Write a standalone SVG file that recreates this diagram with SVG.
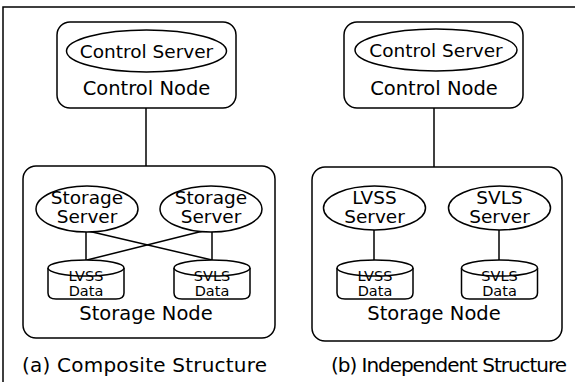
<svg xmlns="http://www.w3.org/2000/svg" width="575" height="382" viewBox="0 0 575 382">
<style>
.bx{fill:none;stroke:#000;stroke-width:1.5}
.el{fill:#fff;stroke:#000;stroke-width:1.5}
.ln{fill:none;stroke:#000;stroke-width:1.5}
text{font-family:"DejaVu Sans","Liberation Sans",sans-serif;fill:#000;text-anchor:middle}
.srv{font-size:18.5px}
.nd{font-size:19.5px}
.db{font-size:14.5px}
.cap{font-size:20px;text-anchor:start}
</style>
<defs>
<g id="cyl">
<path d="M-38,0 V25 Q-38,31 -30,31 H30 Q38,31 38,25 V0" class="el"/>
<ellipse cx="0" cy="0" rx="38" ry="8" class="el"/>
</g>
</defs>
<g id="frame"><path d="M3,382 V7 H575" class="ln"/></g>
<g id="connectors">
<line x1="146" y1="108" x2="146" y2="166" class="ln"/>
<line x1="86" y1="232" x2="86" y2="260" class="ln"/>
<line x1="212" y1="232" x2="212" y2="260" class="ln"/>
<line x1="88" y1="231" x2="212" y2="260" class="ln"/>
<line x1="203" y1="231" x2="87" y2="260" class="ln"/>
<line x1="434" y1="108" x2="434" y2="167" class="ln"/>
<line x1="374" y1="230" x2="374" y2="260" class="ln"/>
<line x1="499" y1="230" x2="499" y2="260" class="ln"/>
</g>
<g id="a-control-node">
<rect x="57" y="22" width="179" height="86" rx="13" class="bx"/>
<ellipse cx="146.5" cy="51" rx="80" ry="21" class="el"/>
<text x="146.5" y="57.5" class="srv">Control Server</text>
<text x="146.5" y="95" class="nd">Control Node</text>
</g>
<g id="a-storage-node">
<rect x="23" y="166" width="252" height="172" rx="13" class="bx"/>
<text x="146" y="320" class="nd">Storage Node</text>
</g>
<g id="a-storage-server-1">
<ellipse cx="87" cy="209" rx="51" ry="23" class="el"/>
<text x="87" y="204" class="srv">Storage</text>
<text x="87" y="223" class="srv">Server</text>
</g>
<g id="a-storage-server-2">
<ellipse cx="211" cy="209" rx="51" ry="23" class="el"/>
<text x="211" y="204" class="srv">Storage</text>
<text x="211" y="223" class="srv">Server</text>
</g>
<g id="a-lvss-data">
<use href="#cyl" x="86" y="268"/>
<text x="86" y="281" class="db">LVSS</text>
<text x="86" y="296" class="db">Data</text>
</g>
<g id="a-svls-data">
<use href="#cyl" x="212" y="268"/>
<text x="212" y="281" class="db">SVLS</text>
<text x="212" y="296" class="db">Data</text>
</g>
<g id="b-control-node">
<rect x="344" y="22" width="179" height="86" rx="13" class="bx"/>
<ellipse cx="436" cy="50" rx="81" ry="21" class="el"/>
<text x="436" y="56.5" class="srv">Control Server</text>
<text x="434" y="95" class="nd">Control Node</text>
</g>
<g id="b-storage-node">
<rect x="312" y="167" width="250" height="174" rx="13" class="bx"/>
<text x="434" y="320" class="nd">Storage Node</text>
</g>
<g id="b-lvss-server">
<ellipse cx="374.5" cy="208" rx="51" ry="22" class="el"/>
<text x="374.5" y="204" class="srv">LVSS</text>
<text x="374.5" y="223" class="srv">Server</text>
</g>
<g id="b-svls-server">
<ellipse cx="499.5" cy="208" rx="51" ry="22" class="el"/>
<text x="499.5" y="204" class="srv">SVLS</text>
<text x="499.5" y="223" class="srv">Server</text>
</g>
<g id="b-lvss-data">
<use href="#cyl" x="375" y="268"/>
<text x="375" y="281" class="db">LVSS</text>
<text x="375" y="296" class="db">Data</text>
</g>
<g id="b-svls-data">
<use href="#cyl" x="499.5" y="268"/>
<text x="499.5" y="281" class="db">SVLS</text>
<text x="499.5" y="296" class="db">Data</text>
</g>
<g id="captions">
<text x="22" y="372" class="cap" textLength="245">(a) Composite Structure</text>
<text x="331" y="372" class="cap" textLength="236">(b) Independent Structure</text>
</g>
</svg>
